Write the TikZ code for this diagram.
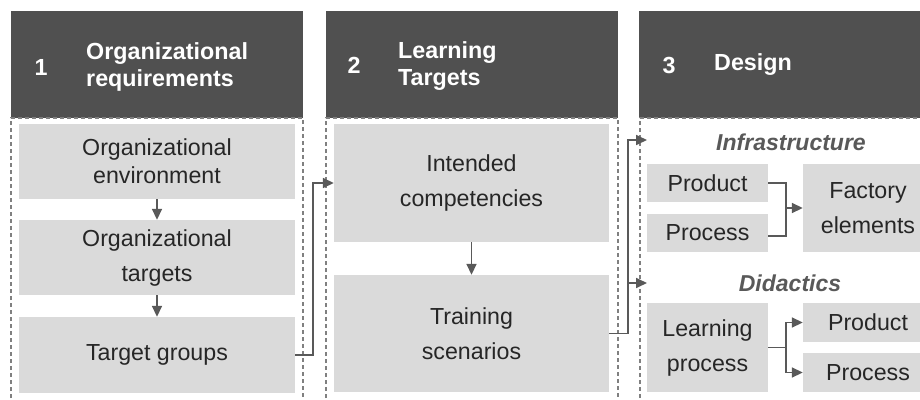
\documentclass[tikz,border=0pt]{standalone}
\usepackage{fontspec}
\setmainfont{Liberation Sans}
\usetikzlibrary{arrows.meta,calc}
\definecolor{hdr}{HTML}{505050}
\definecolor{boxg}{HTML}{DADADA}
\definecolor{txt}{HTML}{262626}
\definecolor{conn}{HTML}{595959}
\definecolor{dsh}{HTML}{808080}
\tikzset{
  hdrbox/.style={fill=hdr,draw=none},
  numlbl/.style={text=white,font=\fontsize{23.3}{27}\selectfont\bfseries,inner sep=0pt},
  hdrlbl/.style={text=white,font=\fontsize{23.3}{27}\selectfont\bfseries,inner sep=0pt,anchor=west,align=left},
  colframe/.style={draw=dsh,line width=1.1pt,dash pattern=on 4pt off 3pt},
  gbox/.style={fill=boxg,draw=none,text=txt,inner sep=0pt,align=center,font=\fontsize{23.2}{28}\selectfont},
  wbox/.style={gbox,font=\fontsize{23.2}{35}\selectfont},
  sublbl/.style={text=conn,font=\fontsize{23}{27}\selectfont\bfseries\itshape,inner sep=0pt},
  conline/.style={draw=conn,line width=1.7pt},
  arr/.style={conline,-{Triangle[length=11pt,width=10pt]}},
}
\begin{document}
\begin{tikzpicture}[x=1pt,y=-1pt]
\useasboundingbox (0,0) rectangle (920,399);
% headers
\fill[hdrbox] (11,11) rectangle (303,118);
\fill[hdrbox] (326,11) rectangle (618,118);
\fill[hdrbox] (639,11) rectangle (945,118);
\node[numlbl] (n1) at (41,67) {1};
\node[hdrlbl] (h1) at (86,67) {Organizational\\requirements};
\node[numlbl] (n2) at (354,65) {2};
\node[hdrlbl] (h2) at (398,66) {Learning\\Targets};
\node[numlbl] (n3) at (669,65) {3};
\node[hdrlbl] (h3) at (714,65) {Design};
% dashed frames
\draw[colframe] (11,405) -- (11,118) -- (303,118) -- (303,405);
\draw[colframe] (326,405) -- (326,118) -- (618,118) -- (618,405);
\draw[colframe] (640,405) -- (640,118) -- (945,118);
% column 1
\node[gbox,minimum width=276pt,minimum height=75pt] (oe) at (157,161.5) {Organizational\\environment};
\node[wbox,minimum width=276pt,minimum height=75pt] (ot) at (157,257.5) {Organizational\\targets};
\node[gbox,minimum width=276pt,minimum height=76pt] (tg) at (157,355) {Target groups};
\draw[arr] (oe) -- (ot);
\draw[arr] (ot) -- (tg);
% column 2
\node[wbox,minimum width=275pt,minimum height=118pt] (ic) at (471.5,183) {Intended\\competencies};
\node[wbox,minimum width=275pt,minimum height=117pt] (ts) at (471.5,333.5) {Training\\scenarios};
\draw[arr] (ic) -- (ts);
\coordinate (j1) at (313,0);
\draw[arr] (tg.east) -- (tg.east -| j1) |- (ic.west);
% column 3
\node[sublbl] (infra) at (791,142) {Infrastructure};
\node[sublbl] (dida) at (790,283) {Didactics};
\coordinate (j2) at (628,0);
\coordinate (infaIn) at (647,140);
\coordinate (didIn) at (647,283);
\draw[arr] (ts.east) -- (ts.east -| j2) |- (infaIn);
\draw[arr] (ts.east -| j2) |- (didIn);
\node[gbox,minimum width=121pt,minimum height=38pt] (prod) at (707.5,183) {Product};
\node[gbox,minimum width=121pt,minimum height=38pt] (proc) at (707.5,233) {Process};
\node[wbox,minimum width=130pt,minimum height=88pt] (fe) at (868,208) {Factory\\elements};
\coordinate (j3) at (786,0);
\draw[arr] (prod.east) -- (prod.east -| j3) |- (fe.west);
\draw[conline] ([yshift=-3pt]proc.east) -- ([yshift=-3pt]proc.east -| j3) -- (fe.west -| j3);
\node[wbox,minimum width=121pt,minimum height=89pt] (lp) at (707.5,347.5) {Learning\\process};
\node[gbox,minimum width=130pt,minimum height=39pt] (dprod) at (868,322.5) {Product};
\node[gbox,minimum width=130pt,minimum height=39pt] (dproc) at (868,372.5) {Process};
\draw[arr] (lp.east) -- (lp.east -| j3) |- (dprod.west);
\draw[arr] (lp.east -| j3) |- (dproc.west);
\end{tikzpicture}
\end{document}
